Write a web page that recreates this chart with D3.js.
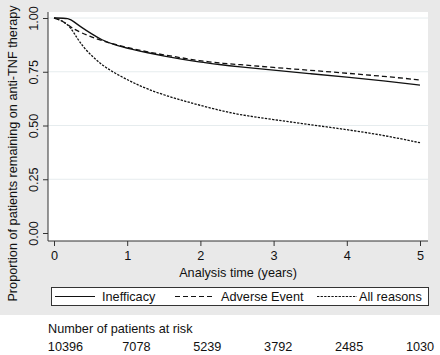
<!DOCTYPE html>
<html><head><meta charset="utf-8">
<script src="https://cdn.jsdelivr.net/npm/d3@7"></script>
<style>
body{margin:0;background:#fff;}
text{font-family:"Liberation Sans",Arial,Helvetica,sans-serif;fill:#111;}
</style></head>
<body>
<svg id="chart" width="440" height="355"></svg>
<script>
// ---- data ----
const ineffTime = [0, 0.21, 0.28, 0.37, 0.51, 0.65, 0.83, 1.06, 1.28, 1.51, 1.74, 1.97, 2.27, 2.5, 3, 3.5, 4, 4.5, 5];
const ineffVal  = [1, 1, 0.98, 0.958, 0.927, 0.898, 0.875, 0.855, 0.838, 0.823, 0.809, 0.796, 0.783, 0.774, 0.757, 0.741, 0.725, 0.708, 0.688];
const adverseTime = [0, 0.1, 0.19, 0.26, 0.37, 0.51, 0.65, 0.83, 1.06, 1.28, 1.51, 1.74, 1.97, 2.27, 2.5, 3, 3.5, 4, 4.5, 5];
const adverseVal  = [1, 0.989, 0.969, 0.95, 0.932, 0.912, 0.895, 0.877, 0.858, 0.842, 0.828, 0.815, 0.802, 0.790, 0.784, 0.770, 0.757, 0.743, 0.729, 0.712];
const allTime = [0, 0.1, 0.21, 0.28, 0.35, 0.46, 0.6, 0.74, 0.92, 1.1, 1.28, 1.51, 1.74, 1.97, 2.27, 2.5, 3, 3.5, 4, 4.5, 5];
const allVal  = [1, 0.99, 0.963, 0.927, 0.888, 0.842, 0.797, 0.762, 0.727, 0.696, 0.669, 0.641, 0.618, 0.596, 0.570, 0.552, 0.527, 0.504, 0.481, 0.455, 0.42];
const seriesNames = ["Inefficacy", "Adverse Event", "All reasons"];
const xTicks = [0, 1, 2, 3, 4, 5];
const yTicks = [0, 0.25, 0.5, 0.75, 1];
const riskTimes = [0, 1, 2, 3, 4, 5];
const riskCounts = [10396, 7078, 5239, 3792, 2485, 1030];
const xTitle = "Analysis time (years)";
const yTitle = "Proportion of patients remaining on anti-TNF therapy";
const riskTitle = "Number of patients at risk";

// ---- layout ----
const svg = d3.select("#chart");
const FS = 12.7;
const plot = {left: 48, right: 428, top: 12, bottom: 241};
const x = d3.scaleLinear().domain([0, 5]).range([54, 420]);
const y = d3.scaleLinear().domain([0, 1]).range([233, 18]);

// graph region background
svg.append("rect").attr("x", 0).attr("y", 0).attr("width", 440).attr("height", 315).attr("fill", "#e9e9e9");
// plot region
svg.append("rect").attr("x", plot.left).attr("y", plot.top)
  .attr("width", plot.right - plot.left).attr("height", plot.bottom - plot.top).attr("fill", "#fff");

// gridlines
svg.append("g").selectAll("line").data(yTicks.filter(d => d > 0)).join("line")
  .attr("x1", plot.left).attr("x2", plot.right)
  .attr("y1", d => y(d)).attr("y2", d => y(d))
  .attr("stroke", "#e6ecee").attr("stroke-width", 1);

// y axis
const yAxis = svg.append("g").attr("transform", `translate(${plot.left},0)`)
  .call(d3.axisLeft(y).tickValues(yTicks).tickFormat(d3.format(".2f")).tickSize(5).tickPadding(4));
yAxis.select(".domain").attr("d", `M0,${plot.top}V${plot.bottom}`).attr("stroke", "#333");
yAxis.selectAll(".tick line").attr("stroke", "#333");
yAxis.selectAll(".tick text")
  .attr("font-size", FS).attr("fill", "#111")
  .attr("transform", "rotate(-90)")
  .attr("x", 0).attr("y", -10).attr("dy", 0)
  .attr("text-anchor", "middle");

// x axis
const xAxis = svg.append("g").attr("transform", `translate(0,${plot.bottom})`)
  .call(d3.axisBottom(x).tickValues(xTicks).tickFormat(d3.format("d")).tickSize(5).tickPadding(5));
xAxis.select(".domain").attr("d", `M${plot.left},0H${plot.right}`).attr("stroke", "#333");
xAxis.selectAll(".tick line").attr("stroke", "#333");
xAxis.selectAll(".tick text").attr("font-size", FS).attr("fill", "#111");

// axis titles
svg.append("text").attr("x", (plot.left + plot.right) / 2).attr("y", 277)
  .attr("text-anchor", "middle").attr("font-size", FS).text(xTitle);
svg.append("text").attr("transform", "translate(17,153.5) rotate(-90)")
  .attr("text-anchor", "middle").attr("font-size", FS).text(yTitle);

// curves
const series = [
  {name: seriesNames[0], t: ineffTime, v: ineffVal, dash: null},
  {name: seriesNames[1], t: adverseTime, v: adverseVal, dash: "5,3"},
  {name: seriesNames[2], t: allTime, v: allVal, dash: "2.3,1.3"}
];
const line = d3.line().x(d => x(d[0])).y(d => y(d[1])).curve(d3.curveBasis);
svg.append("g").selectAll("path").data(series).join("path")
  .attr("d", s => line(s.t.map((t, i) => [t, s.v[i]])))
  .attr("fill", "none").attr("stroke", "#111").attr("stroke-width", 1.3)
  .attr("stroke-dasharray", s => s.dash);

// legend
const lg = svg.append("g");
lg.append("rect").attr("x", 51.5).attr("y", 287.5).attr("width", 377).attr("height", 18)
  .attr("fill", "#fff").attr("stroke", "#333").attr("stroke-width", 1);
const legX = [55, 175, 317];
const legTextX = [102, 221, 359];
series.forEach((s, i) => {
  lg.append("line").attr("x1", legX[i]).attr("x2", legX[i] + 40).attr("y1", 296.5).attr("y2", 296.5)
    .attr("stroke", "#111").attr("stroke-width", 1.2).attr("stroke-dasharray", s.dash);
  lg.append("text").attr("x", legTextX[i]).attr("y", 301).attr("font-size", FS).text(s.name);
});

// number at risk
svg.append("text").attr("x", 48).attr("y", 333).attr("font-size", FS).text(riskTitle);
const rx = d3.scalePoint().domain(riskTimes).range([65.5, 420]);
svg.append("g").selectAll("text").data(riskCounts).join("text")
  .attr("x", (d, i) => rx(riskTimes[i])).attr("y", 351)
  .attr("text-anchor", "middle").attr("font-size", FS).text(d => d);
</script>
</body></html>
